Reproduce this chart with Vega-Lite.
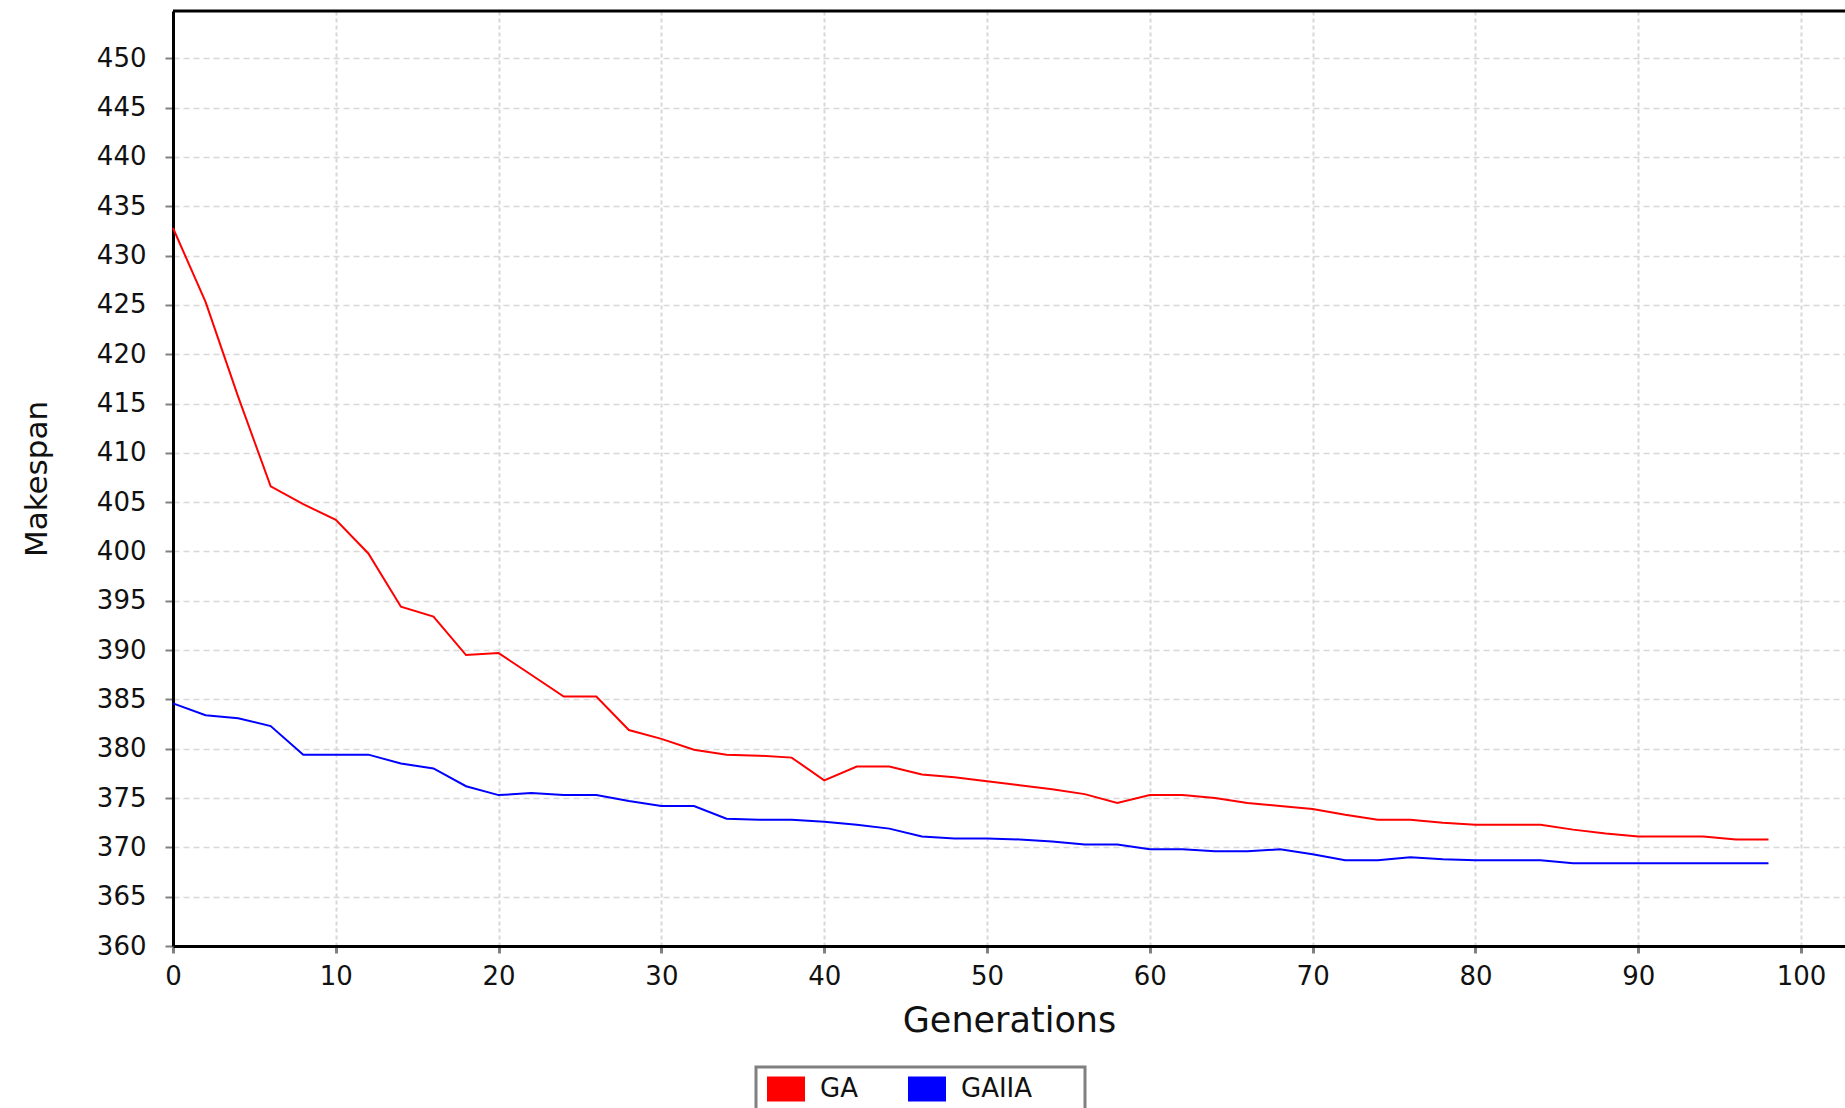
{
  "$schema": "https://vega.github.io/schema/vega-lite/v6.json",
  "width": 1672,
  "height": 935,
  "autosize": {"type": "none"},
  "padding": {"left": 173, "top": 11, "right": 0, "bottom": 162},
  "background": "white",
  "config": {
    "view": {"stroke": null},
    "font": "DejaVu Sans",
    "axis": {"labelFont": "DejaVu Sans", "titleFont": "DejaVu Sans", "labelColor": "#111111", "titleColor": "#111111", "titleFontWeight": "normal"},
    "legend": {"strokeWidth": 3}
  },
  "datasets": {
    "series": [
      {"g":0,"v":432.8,"s":"GA"},{"g":2,"v":425.3,"s":"GA"},{"g":4,"v":415.7,"s":"GA"},{"g":6,"v":406.6,"s":"GA"},{"g":8,"v":404.8,"s":"GA"},
      {"g":10,"v":403.2,"s":"GA"},{"g":12,"v":399.8,"s":"GA"},{"g":14,"v":394.4,"s":"GA"},{"g":16,"v":393.4,"s":"GA"},{"g":18,"v":389.5,"s":"GA"},
      {"g":20,"v":389.7,"s":"GA"},{"g":22,"v":387.5,"s":"GA"},{"g":24,"v":385.3,"s":"GA"},{"g":26,"v":385.3,"s":"GA"},{"g":28,"v":381.9,"s":"GA"},
      {"g":30,"v":381.0,"s":"GA"},{"g":32,"v":379.9,"s":"GA"},{"g":34,"v":379.4,"s":"GA"},{"g":36,"v":379.3,"s":"GA"},{"g":38,"v":379.1,"s":"GA"},
      {"g":40,"v":376.8,"s":"GA"},{"g":42,"v":378.2,"s":"GA"},{"g":44,"v":378.2,"s":"GA"},{"g":46,"v":377.4,"s":"GA"},{"g":48,"v":377.1,"s":"GA"},
      {"g":50,"v":376.7,"s":"GA"},{"g":52,"v":376.3,"s":"GA"},{"g":54,"v":375.9,"s":"GA"},{"g":56,"v":375.4,"s":"GA"},{"g":58,"v":374.5,"s":"GA"},
      {"g":60,"v":375.3,"s":"GA"},{"g":62,"v":375.3,"s":"GA"},{"g":64,"v":375.0,"s":"GA"},{"g":66,"v":374.5,"s":"GA"},{"g":68,"v":374.2,"s":"GA"},
      {"g":70,"v":373.9,"s":"GA"},{"g":72,"v":373.3,"s":"GA"},{"g":74,"v":372.8,"s":"GA"},{"g":76,"v":372.8,"s":"GA"},{"g":78,"v":372.5,"s":"GA"},
      {"g":80,"v":372.3,"s":"GA"},{"g":82,"v":372.3,"s":"GA"},{"g":84,"v":372.3,"s":"GA"},{"g":86,"v":371.8,"s":"GA"},{"g":88,"v":371.4,"s":"GA"},
      {"g":90,"v":371.1,"s":"GA"},{"g":92,"v":371.1,"s":"GA"},{"g":94,"v":371.1,"s":"GA"},{"g":96,"v":370.8,"s":"GA"},{"g":98,"v":370.8,"s":"GA"},
      {"g":0,"v":384.6,"s":"GAIIA"},{"g":2,"v":383.4,"s":"GAIIA"},{"g":4,"v":383.1,"s":"GAIIA"},{"g":6,"v":382.3,"s":"GAIIA"},{"g":8,"v":379.4,"s":"GAIIA"},
      {"g":10,"v":379.4,"s":"GAIIA"},{"g":12,"v":379.4,"s":"GAIIA"},{"g":14,"v":378.5,"s":"GAIIA"},{"g":16,"v":378.0,"s":"GAIIA"},{"g":18,"v":376.2,"s":"GAIIA"},
      {"g":20,"v":375.3,"s":"GAIIA"},{"g":22,"v":375.5,"s":"GAIIA"},{"g":24,"v":375.3,"s":"GAIIA"},{"g":26,"v":375.3,"s":"GAIIA"},{"g":28,"v":374.7,"s":"GAIIA"},
      {"g":30,"v":374.2,"s":"GAIIA"},{"g":32,"v":374.2,"s":"GAIIA"},{"g":34,"v":372.9,"s":"GAIIA"},{"g":36,"v":372.8,"s":"GAIIA"},{"g":38,"v":372.8,"s":"GAIIA"},
      {"g":40,"v":372.6,"s":"GAIIA"},{"g":42,"v":372.3,"s":"GAIIA"},{"g":44,"v":371.9,"s":"GAIIA"},{"g":46,"v":371.1,"s":"GAIIA"},{"g":48,"v":370.9,"s":"GAIIA"},
      {"g":50,"v":370.9,"s":"GAIIA"},{"g":52,"v":370.8,"s":"GAIIA"},{"g":54,"v":370.6,"s":"GAIIA"},{"g":56,"v":370.3,"s":"GAIIA"},{"g":58,"v":370.3,"s":"GAIIA"},
      {"g":60,"v":369.8,"s":"GAIIA"},{"g":62,"v":369.8,"s":"GAIIA"},{"g":64,"v":369.6,"s":"GAIIA"},{"g":66,"v":369.6,"s":"GAIIA"},{"g":68,"v":369.8,"s":"GAIIA"},
      {"g":70,"v":369.3,"s":"GAIIA"},{"g":72,"v":368.7,"s":"GAIIA"},{"g":74,"v":368.7,"s":"GAIIA"},{"g":76,"v":369.0,"s":"GAIIA"},{"g":78,"v":368.8,"s":"GAIIA"},
      {"g":80,"v":368.7,"s":"GAIIA"},{"g":82,"v":368.7,"s":"GAIIA"},{"g":84,"v":368.7,"s":"GAIIA"},{"g":86,"v":368.4,"s":"GAIIA"},{"g":88,"v":368.4,"s":"GAIIA"},
      {"g":90,"v":368.4,"s":"GAIIA"},{"g":92,"v":368.4,"s":"GAIIA"},{"g":94,"v":368.4,"s":"GAIIA"},{"g":96,"v":368.4,"s":"GAIIA"},{"g":98,"v":368.4,"s":"GAIIA"}
    ],
    "border": [{"top": 454.8}]
  },
  "layer": [
    {
      "data": {"name": "series"},
      "mark": {"type": "line", "interpolate": "linear"},
      "encoding": {
        "x": {
          "field": "g", "type": "quantitative",
          "scale": {"domain": [0, 102.7], "nice": false, "zero": false},
          "axis": {
            "title": "Generations",
            "values": [0, 10, 20, 30, 40, 50, 60, 70, 80, 90, 100],
            "labelFontSize": 26, "labelPadding": 10, "labelFlush": false, "labelOverlap": false,
            "tickSize": 7, "tickWidth": 3, "tickColor": "#808080",
            "domainColor": "#000000", "domainWidth": 3,
            "grid": true, "gridColor": "#d8d8d8", "gridDash": [4, 3], "gridWidth": 2,
            "titleFontSize": 35, "titlePadding": 14
          }
        },
        "y": {
          "field": "v", "type": "quantitative",
          "scale": {"domain": [360, 454.8], "nice": false, "zero": false},
          "axis": {
            "title": "Makespan",
            "values": [360, 365, 370, 375, 380, 385, 390, 395, 400, 405, 410, 415, 420, 425, 430, 435, 440, 445, 450],
            "labelFontSize": 26, "labelPadding": 19, "labelOverlap": false,
            "tickSize": 8, "tickWidth": 2, "tickColor": "#808080",
            "domainColor": "#000000", "domainWidth": 3,
            "grid": true, "gridColor": "#d8d8d8", "gridDash": [6, 4], "gridWidth": 1.5,
            "titleFontSize": 31, "titlePadding": 43
          }
        },
        "strokeWidth": {"value": 2},
        "color": {
          "field": "s", "type": "nominal",
          "scale": {"domain": ["GA", "GAIIA"], "range": ["#ff0000", "#0000ff"]},
          "legend": {
            "title": "\u00a0",
            "titleOrient": "right",
            "titleFontSize": 1,
            "titlePadding": 44,
            "orient": "none",
            "direction": "horizontal",
            "gridAlign": "each",
            "legendX": 583,
            "legendY": 1056,
            "padding": 9,
            "strokeColor": "#808080",
            "symbolType": "M-38,0L38,0",
            "symbolSize": 1,
            "symbolStrokeWidth": 25,
            "symbolOffset": 8,
            "labelOffset": 21,
            "labelFontSize": 26,
            "labelColor": "#111111",
            "labelFont": "DejaVu Sans",
            "columnPadding": 0
          }
        }
      }
    },
    {
      "data": {"name": "border"},
      "mark": {"type": "rule", "color": "#000000", "strokeWidth": 3},
      "encoding": {"y": {"field": "top", "type": "quantitative"}}
    }
  ]
}
